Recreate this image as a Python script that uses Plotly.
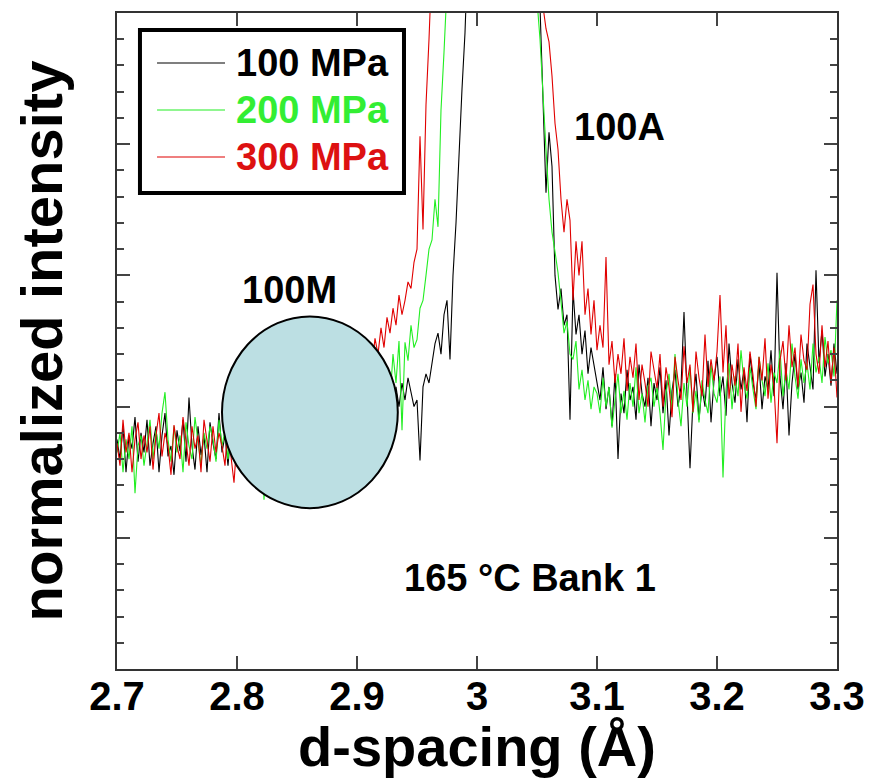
import plotly.graph_objects as go

# ---------------- data ----------------
D_START = 2.7
D_STEP = 0.0025
N_POINTS = 241
d_spacing = [round(D_START + D_STEP * i, 4) for i in range(N_POINTS)]

series_names = ["100 MPa", "200 MPa", "300 MPa"]
series_colors = ["#000000", "#22EE22", "#E00000"]
text_colors = ["#000000", "#33EE33", "#DD1111"]

intensity_100 = [
    175, 160, 185, 150, 178, 168, 192, 158, 180, 165,
    190, 155, 172, 185, 150, 178, 195, 162, 170, 148,
    182, 166, 190, 158, 207, 170, 152, 185, 163, 178,
    150, 188, 172, 160, 195, 165, 178, 155, 183, 170,
    160, 190, 168, 176, 152, 185, 170, 162, 192, 158,
    175, 180, 155, 188, 166, 172, 150, 184, 176, 163,
    190, 168, 178, 155, 186, 172, 165, 194, 160, 180,
    170, 188, 162, 182, 175, 192, 168, 185, 178, 196,
    172, 190, 184, 200, 178, 195, 188, 205, 182, 198,
    190, 210, 195, 215, 200, 218, 205, 222, 210, 200,
    205, 159, 215, 225, 218, 235, 248, 256, 240, 270,
    281, 236, 300, 340, 395, 442, 485, 560, 620, 680,
    491, 720, 800, 880, 950, 1000, 1040, 1060, 1050, 1020,
    980, 930, 880, 820, 760, 700, 650, 610, 580, 560,
    560, 505, 430, 363, 409, 383, 300, 274, 290, 262,
    270, 190, 289, 255, 270, 240, 258, 225, 245, 232,
    220, 205, 230, 198, 215, 185, 225, 160, 210, 195,
    228, 205, 215, 190, 232, 210, 200, 222, 185, 218,
    205, 230, 195, 220, 178, 212, 228, 200, 215, 272,
    210, 153, 205, 225, 190, 215, 200, 235, 188, 220,
    238, 208, 223, 193, 248, 218, 203, 236, 213, 228,
    188, 240, 218, 206, 233, 198, 223, 213, 243, 208,
    302, 223, 198, 233, 178, 218, 240, 213, 226, 203,
    248, 228, 213, 304, 233, 258, 223, 240, 216, 248,
    225,
]

intensity_200 = [
    165, 180, 150, 175, 160, 185, 134, 170, 178, 155,
    172, 190, 160, 182, 168, 195, 211, 175, 158, 185,
    165, 178, 150, 188, 170, 160, 192, 174, 155, 180,
    168, 185, 175, 158, 190, 170, 182, 160, 178, 172,
    185, 165, 180, 170, 158, 188, 175, 165, 180, 129,
    170, 185, 162, 178, 190, 168, 175, 182, 160, 188,
    172, 180, 195, 165, 185, 175, 190, 170, 200, 178,
    192, 182, 175, 198, 188, 205, 180, 195, 210, 190,
    200, 215, 195, 222, 205, 230, 212, 200, 225, 215,
    228, 205, 240, 218, 250, 182, 249, 235, 262, 245,
    251, 275, 281, 300, 320, 327, 358, 337, 426, 470,
    520, 700, 780, 860, 930, 990, 1040, 1080, 1100, 1100,
    1090, 1070, 1040, 1000, 960, 920, 870, 830, 790, 750,
    710, 680, 650, 620, 600, 580, 560, 545, 530, 520,
    510, 480, 434, 396, 358, 333, 318, 302, 280, 256,
    265, 240, 236, 250, 213, 228, 205, 220, 198, 215,
    210, 195, 222, 200, 215, 184, 205, 225, 195, 212,
    190, 218, 200, 230, 195, 210, 188, 215, 222, 200,
    215, 195, 167, 210, 225, 198, 240, 205, 185, 218,
    200, 230, 195, 212, 188, 220, 205, 195, 232, 210,
    203, 223, 146, 213, 233, 198, 223, 208, 243, 218,
    206, 230, 213, 198, 238, 220, 208, 233, 203, 226,
    218, 243, 208, 228, 213, 248, 223, 206, 236, 218,
    233, 213, 248, 226, 238, 218, 253, 233, 243, 223,
    281,
]

intensity_300 = [
    172, 155, 190, 165, 180, 150, 175, 188, 160, 178,
    165, 185, 152, 178, 195, 162, 180, 170, 148, 186,
    170, 160, 192, 175, 155, 185, 168, 178, 150, 190,
    172, 158, 185, 165, 180, 170, 155, 188, 162, 142,
    175, 185, 160, 178, 168, 190, 155, 180, 172, 165,
    185, 170, 158, 192, 175, 165, 182, 170, 195, 160,
    180, 175, 190, 168, 185, 178, 198, 172, 190, 185,
    200, 180, 195, 210, 188, 205, 198, 215, 200, 225,
    210, 235, 220, 215, 245, 230, 252, 240, 260, 245,
    268, 256, 275, 262, 285, 270, 281, 295, 290, 310,
    320, 406, 335, 430, 480, 560, 650, 740, 820, 890,
    950, 1000, 1050, 1090, 1120, 1140, 1150, 1150, 1140, 1120,
    1100, 1070, 1040, 1000, 960, 920, 880, 840, 800, 770,
    740, 710, 680, 660, 640, 620, 600, 585, 570, 555,
    540, 525, 505, 488, 478, 452, 416, 396, 358, 333,
    358, 342, 281, 326, 300, 326, 270, 290, 255, 281,
    243, 262, 245, 314, 232, 250, 218, 240, 225, 252,
    212, 238, 222, 248, 205, 232, 218, 200, 242, 226,
    214, 240, 200, 230, 215, 192, 238, 220, 205, 246,
    218, 232, 196, 242, 222, 208, 255, 215, 236, 220,
    242, 285, 226, 262, 206, 232, 216, 248, 196, 230,
    212, 242, 224, 200, 238, 220, 252, 206, 232, 216,
    172, 235, 250, 220, 262, 230, 245, 215, 255, 235,
    228, 278, 293, 240, 225, 262, 230, 250, 218, 245,
    207,
]

all_series = [intensity_100, intensity_200, intensity_300]
for s in all_series:
    assert len(s) == N_POINTS, len(s)

x_tick_vals = [2.7, 2.8, 2.9, 3.0, 3.1, 3.2, 3.3]
x_tick_text = ["2.7", "2.8", "2.9", "3", "3.1", "3.2", "3.3"]
x_title = "d-spacing (Å)"
y_title = "normalized intensity"

# ---------------- figure ----------------
FONT = "Arial, 'Liberation Sans', sans-serif"

fig = go.Figure()
for name, col, ys in zip(series_names, series_colors, all_series):
    fig.add_trace(go.Scatter(x=d_spacing, y=ys, mode="lines", name=name,
                             line=dict(color=col, width=1.1), showlegend=False))

# 100M marker ellipse
fig.add_shape(type="circle", xref="x", yref="y", x0=2.7875, x1=2.934, y0=122.6, y1=268.7,
              fillcolor="#BCDFE3", line=dict(color="black", width=2), layer="above")

# legend box drawn from the series definitions
fig.add_shape(type="rect", xref="paper", yref="paper", x0=0.0319, x1=0.3986, y0=0.7256, y1=0.974,
              fillcolor="white", line=dict(color="black", width=4), layer="above")
row_y = [0.9238, 0.8521, 0.7805]
for name, col, tcol, yy in zip(series_names, series_colors, text_colors, row_y):
    fig.add_shape(type="line", xref="paper", yref="paper", x0=0.0556, x1=0.15, y0=yy, y1=yy,
                  line=dict(color=col, width=1.1), layer="above")
    fig.add_annotation(xref="paper", yref="paper", x=0.163, y=yy, text=name, showarrow=False,
                       xanchor="left", yanchor="middle",
                       font=dict(family=FONT, size=38, color=tcol, weight="bold"))

ann_font = dict(family=FONT, size=38, color="black", weight="bold")
fig.add_annotation(x=2.8435, y=289, text="100M", showarrow=False, font=ann_font)
fig.add_annotation(x=3.119, y=413, text="100A", showarrow=False, font=ann_font)
fig.add_annotation(x=3.0443, y=69, text="165 °C Bank 1", showarrow=False, font=ann_font)

fig.update_layout(
    width=870, height=778,
    margin=dict(l=117, r=33, t=13, b=109),
    paper_bgcolor="white", plot_bgcolor="white",
    showlegend=False,
    font=dict(family=FONT, color="black"),
)
fig.update_xaxes(
    range=[2.7, 3.3], tickvals=x_tick_vals, ticktext=x_tick_text,
    ticks="inside", ticklen=13, tickwidth=1.5, tickcolor="#444",
    ticklabelstandoff=-9,
    showline=True, linecolor="#333", linewidth=2, mirror="allticks",
    showgrid=False, zeroline=False,
    tickfont=dict(family=FONT, size=40, color="black", weight="bold"),
    title=dict(text=x_title, font=dict(family=FONT, size=56, color="black", weight="bold"),
               standoff=0),
    automargin=False,
)
fig.update_yaxes(
    range=[0, 500], tick0=0, dtick=100, showticklabels=False,
    ticks="inside", ticklen=13, tickwidth=1.5, tickcolor="#444",
    minor=dict(ticks="inside", ticklen=7, tickwidth=1.5, tickcolor="#444", dtick=20),
    showline=True, linecolor="#333", linewidth=2, mirror="allticks",
    showgrid=False, zeroline=False,
    title=dict(text=y_title, font=dict(family=FONT, size=58, color="black", weight="bold"),
               standoff=34),
    automargin=False,
)

fig.write_html("out.html")
